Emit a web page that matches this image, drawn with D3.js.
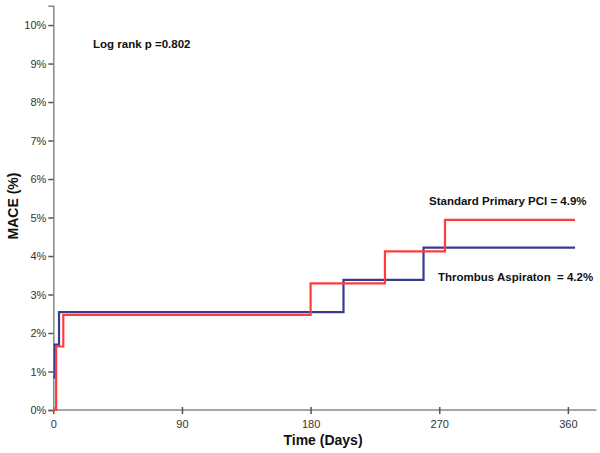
<!DOCTYPE html>
<html><head><meta charset="utf-8">
<script src="https://cdn.jsdelivr.net/npm/d3@7"></script>
<style>body{margin:0;background:#fff}svg{display:block}</style>
</head><body>
<svg id="c" width="600" height="453"></svg>
<script>
// Data: step times (days) and cumulative MACE (%)
const standardDays = [0, 2, 7, 180, 232, 274, 365];
const standardMace = [0, 1.65, 2.47, 3.29, 4.12, 4.94, 4.94];
const aspirationDays = [0, 1, 4, 203, 259, 365];
const aspirationMace = [0.85, 1.7, 2.54, 3.38, 4.22, 4.22];
const xTicks = [0, 90, 180, 270, 360];
const yTicks = [0, 1, 2, 3, 4, 5, 6, 7, 8, 9, 10];
const seriesNames = ["Standard Primary PCI = 4.9%", "Thrombus Aspiraton  = 4.2%"];
const pText = "Log rank p =0.802";

const svg = d3.select("#c");
const x = d3.scaleLinear().domain([0, 380]).range([53.3, 596.5]);
const y = d3.scaleLinear().domain([0, 10.5]).range([410, 5.8]);
const axisColor = "#888";
const font = "Arial, 'Liberation Sans', sans-serif";

const xAxis = svg.append("g").attr("transform", `translate(0,${y(0)})`)
  .call(d3.axisBottom(x).tickValues(xTicks).tickSizeOuter(0).tickSize(5));
xAxis.select(".domain").attr("d", `M${x(0)},0H${x(380)}`);
const yAxis = svg.append("g").attr("transform", `translate(${x(0)},0)`)
  .call(d3.axisLeft(y).tickValues(yTicks).tickFormat(d => d + "%").tickSizeOuter(0).tickSize(5));
[xAxis, yAxis].forEach(g => {
  g.select(".domain").attr("stroke", axisColor).attr("stroke-width", 1.5);
  g.selectAll(".tick line").attr("stroke", "#555").attr("stroke-width", 1.5);
  g.selectAll(".tick text").attr("fill", "#333").style("font-family", font).style("font-size", "11px");
});
xAxis.selectAll(".tick line").attr("y1", -3).attr("y2", 4);
xAxis.selectAll(".tick text").attr("y", 10);
yAxis.selectAll(".tick text").attr("x", -7);

const line = d3.line().x(d => x(d[0])).y(d => y(d[1])).curve(d3.curveStepAfter);
const mk = (days, vals) => days.map((d, i) => [d, vals[i]]);
svg.append("path").datum(mk(aspirationDays, aspirationMace)).attr("d", line)
  .attr("fill", "none").attr("stroke", "#3b3b8e").attr("stroke-width", 2.2);
svg.append("path").datum(mk(standardDays, standardMace)).attr("d", line)
  .attr("fill", "none").attr("stroke", "#ff3c3c").attr("stroke-width", 2.2);

const bold = (t, xx, yy, size, anchor) => svg.append("text").text(t).attr("x", xx).attr("y", yy)
  .attr("text-anchor", anchor || "start").style("font-family", font).style("font-weight", "bold")
  .style("white-space", "pre").attr("xml:space", "preserve")
  .style("font-size", size + "px").attr("fill", "#111");
bold(pText, 93, 48, 11.5);
bold(seriesNames[0], 429, 205, 11.5);
bold(seriesNames[1], 438, 281, 11.5);
bold("Time (Days)", 323, 445, 14, "middle");
svg.append("text").text("MACE (%)").attr("transform", "translate(18,206) rotate(-90)")
  .attr("text-anchor", "middle").style("font-family", font).style("font-weight", "bold")
  .style("font-size", "14px").attr("fill", "#111");
</script>
</body></html>
